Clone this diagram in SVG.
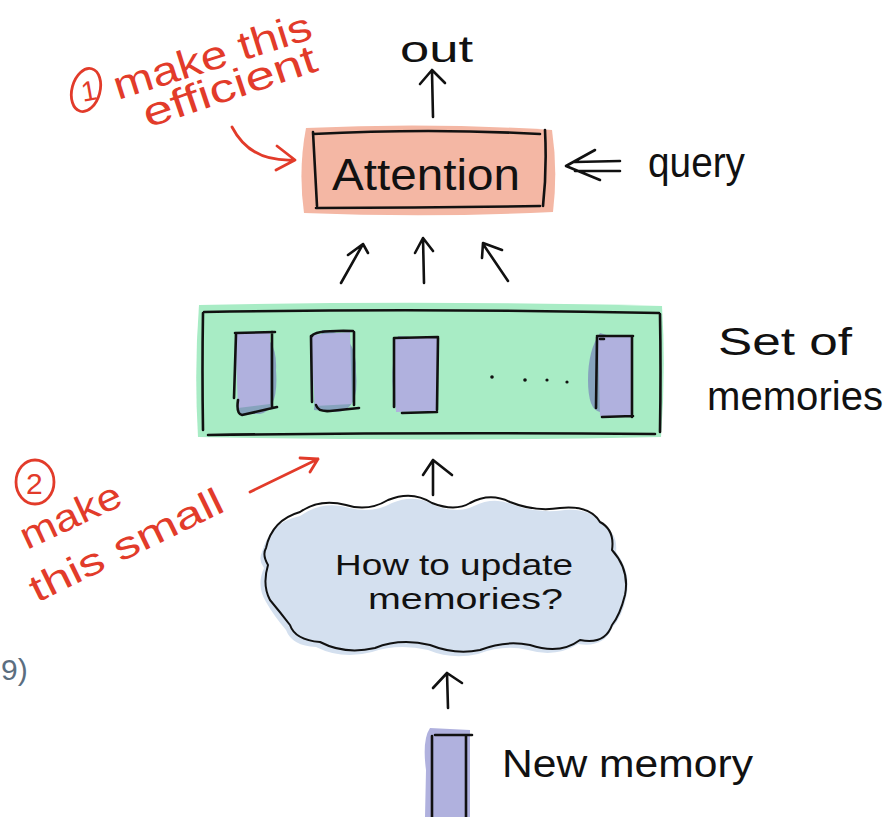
<svg xmlns="http://www.w3.org/2000/svg" width="889" height="817" viewBox="0 0 889 817">
<style>
.ink{fill:none;stroke:#111;stroke-width:2.6;stroke-linecap:round;stroke-linejoin:round}
.thin{fill:none;stroke:#111;stroke-width:2;stroke-linecap:round;stroke-linejoin:round}
.red{fill:none;stroke:#e23b2a;stroke-width:2.8;stroke-linecap:round;stroke-linejoin:round}
.t{font-family:"Liberation Sans","DejaVu Sans",sans-serif;fill:#111}
.rt{font-family:"Liberation Sans","DejaVu Sans",sans-serif;fill:#e23b2a}
.cell{fill:#b0b1de}
.shadow{fill:#86a3bd}
</style>
<rect width="889" height="817" fill="#ffffff"/>

<g id="out">
<text class="t" x="400" y="62" font-size="36" textLength="73" lengthAdjust="spacingAndGlyphs">out</text>
</g>

<g id="attention">
<path d="M306,128 Q430,122 552,130 Q558,170 553,212 Q430,218 304,213 Q298,170 306,128 Z" fill="#f4b7a4"/>
<path class="ink" d="M313,134 Q430,128 540,134 M545,130 Q547,170 543,206 M540,206 Q430,208 316,208 M313,132 Q315,170 317,206"/>
<text class="t" x="332" y="190" font-size="44" textLength="188" lengthAdjust="spacingAndGlyphs">Attention</text>
</g>

<g id="query">
<text class="t" x="648" y="177" font-size="42" textLength="97" lengthAdjust="spacingAndGlyphs">query</text>
</g>

<g id="memories">
<path d="M199,305 Q430,300 662,306 Q666,370 661,437 Q430,442 198,437 Q194,370 199,305 Z" fill="#a8ecc5"/>
<path class="ink" d="M204,312 Q430,308 659,313 M660,314 Q661,370 660,432 M208,435 Q430,432 655,434 M203,313 Q202,370 203,430"/>
<g id="cell1">
<path class="shadow" d="M248,332 Q278,332 276,370 Q279,410 260,414 L238,414 L240,372 Z"/>
<path class="cell" d="M235,333 L270,332 L270,404 L238,408 Z"/>
<path class="ink" d="M235,333 L275,332 M236,334 L234,398 M272,332 L272,407 M238,400 Q236,414 242,415 L277,407"/>
</g>
<g id="cell2">
<path class="shadow" d="M322,330 Q358,332 356,372 Q360,412 335,412 L314,410 L316,372 Z"/>
<path class="cell" d="M310,335 L350,332 L352,404 L315,406 Z"/>
<path class="ink" d="M312,336 Q314,330 353,331 M311,336 L312,402 M354,332 L354,405 M316,405 Q318,412 330,411 L359,408"/>
</g>
<g id="cell3">
<path class="shadow" d="M398,336 Q438,336 438,372 L438,412 L396,410 Q388,372 398,336 Z"/>
<path class="cell" d="M394,338 L437,337 L437,411 L396,412 Z"/>
<path class="ink" d="M394,338 L438,337 M394,338 L394,407 M438,338 L437,410 M402,413 L437,412"/>
</g>
<g id="dots">
<circle cx="492" cy="377" r="1.8" fill="#111"/>
<circle cx="525" cy="380" r="1.8" fill="#111"/>
<circle cx="547" cy="380" r="1.6" fill="#111"/>
<circle cx="567" cy="382" r="1.6" fill="#111"/>
</g>
<g id="cell4">
<path class="shadow" d="M600,333 Q588,350 588,380 Q588,410 600,412 L610,414 L610,336 Z"/>
<path class="cell" d="M598,335 L632,335 L632,417 L600,416 Z"/>
<path class="ink" d="M597,336 L633,336 M597,337 L596,408 M632,336 L632,417 M602,417 L633,416 M600,339 L604,339"/>
</g>
</g>

<g id="setof">
<text class="t" x="718" y="355" font-size="38" textLength="134" lengthAdjust="spacingAndGlyphs">Set of</text>
<text class="t" x="707" y="410" font-size="40" textLength="176" lengthAdjust="spacingAndGlyphs">memories</text>
</g>

<g id="cloud">
<path d="M262,552 Q270,522 300,516 Q322,500 350,508 Q372,514 392,503 Q415,493 436,506 Q458,514 474,506 Q494,496 514,505 Q538,514 565,510 Q592,508 604,526 Q618,534 616,552 Q632,572 626,598 Q622,617 612,628 Q604,648 578,644 Q556,658 528,650 Q504,644 478,654 Q452,660 428,650 Q398,643 372,652 Q342,660 316,647 Q292,646 286,630 Q274,616 266,602 Q256,586 264,568 Q258,560 262,552 Z" fill="#d4e0ef"/>
<path class="thin" d="M266,548 Q272,520 300,512 Q320,498 346,505 Q368,512 388,500 Q412,490 432,503 Q455,512 470,503 Q490,492 510,502 Q535,512 560,508 Q590,505 600,522 Q615,530 612,550 Q630,570 625,595 Q620,615 612,625 Q605,645 580,640 Q560,655 530,645 Q505,640 480,650 Q455,655 430,645 Q400,638 375,648 Q345,655 320,642 Q295,640 290,625 Q280,612 270,600 Q262,585 268,565 Q262,555 266,548 Z"/>
<text class="t" x="335" y="575" font-size="30" textLength="238" lengthAdjust="spacingAndGlyphs">How to update</text>
<text class="t" x="368" y="609" font-size="30" textLength="195" lengthAdjust="spacingAndGlyphs">memories?</text>
</g>

<g id="newmemory">
<path d="M430,728 Q422,740 426,770 L425,817 L470,817 L470,730 Z" fill="#b0b1de"/>
<path class="ink" d="M432,736 L432,817 M435,735 L472,735 M466,736 L466,817"/>
<text class="t" x="502" y="777" font-size="38" textLength="251" lengthAdjust="spacingAndGlyphs">New memory</text>
</g>

<g id="annotation1">
<ellipse class="red" cx="86" cy="90" rx="14" ry="22" transform="rotate(15 86 90)" stroke-width="2.4"/>
<text class="rt" x="81" y="101" font-size="28" transform="rotate(-10 86 90)">1</text>
<text class="rt" x="118" y="100" font-size="40" transform="rotate(-17.5 118 100)" textLength="206" lengthAdjust="spacingAndGlyphs">make this</text>
<text class="rt" x="148" y="128" font-size="40" transform="rotate(-18.6 148 128)" textLength="181" lengthAdjust="spacingAndGlyphs">efficient</text>
</g>

<g id="annotation2">
<ellipse class="red" cx="35" cy="482" rx="19" ry="22" stroke-width="2.4"/>
<text class="rt" x="26" y="494" font-size="30">2</text>
<text class="rt" x="27" y="550" font-size="38" transform="rotate(-25 27 550)" textLength="108" lengthAdjust="spacingAndGlyphs">make</text>
<text class="rt" x="37" y="603" font-size="38" transform="rotate(-26 37 603)" textLength="211" lengthAdjust="spacingAndGlyphs">this  small</text>
</g>

<g id="partial-label">
<text x="1" y="680" font-family="Liberation Sans, sans-serif" font-size="30" fill="#5b6e80">9)</text>
</g>

<g id="connectors">
<path class="ink" d="M433,117 L432,72 M420,84 L432,70 L445,83"/>
<path class="ink" d="M620,161 L575,162 M620,171 L575,171 M595,150 L566,166 L600,180"/>
<path class="ink" d="M341,283 L363,244 M348,255 L363,244 L368,253"/>
<path class="ink" d="M424,283 L423,238 M415,253 L423,238 L433,251"/>
<path class="ink" d="M508,281 L483,244 M482,258 L483,243 L502,250"/>
<path class="ink" d="M433,495 L433,460 M423,475 L433,460 L452,475"/>
<path class="ink" d="M448,708 L447,673 M433,688 L447,673 L462,683"/>
<path class="red" d="M232,127 Q250,162 293,160 M277,146 L295,160 L276,170"/>
<path class="red" d="M250,492 Q285,475 318,459 M300,458 L318,459 L310,472"/>
</g>
</svg>
